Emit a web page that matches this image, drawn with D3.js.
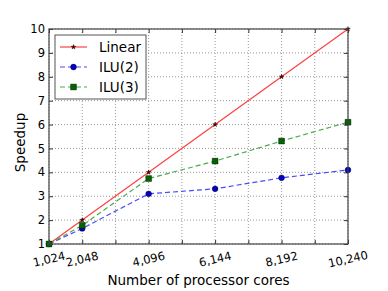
<!DOCTYPE html>
<html>
<head>
<meta charset="utf-8">
<script src="https://cdn.jsdelivr.net/npm/d3@7"></script>
<style>
  body { margin: 0; background: #fff; }
  text { font-family: "DejaVu Sans", sans-serif; fill: #000; }
</style>
</head>
<body>
<div id="chart"></div>
<script>
const cores = [1024, 2048, 4096, 6144, 8192, 10240];
const linear = [1, 2, 4, 6, 8, 10];
const ilu2 = [1, 1.65, 3.1, 3.31, 3.77, 4.1];
const ilu3 = [1, 1.78, 3.74, 4.47, 5.31, 6.1];
const gridCores = [1024, 2048, 3072, 4096, 5120, 6144, 7168, 8192, 9216, 10240];
const yTicks = [1, 2, 3, 4, 5, 6, 7, 8, 9, 10];

const margin = { top: 29, right: 40, bottom: 47, left: 49 };
const width = 388 - margin.left - margin.right;
const height = 291 - margin.top - margin.bottom;

const svg = d3
  .select("#chart")
  .append("svg")
  .attr("width", 388)
  .attr("height", 291);

const g = svg
  .append("g")
  .attr("transform", `translate(${margin.left}, ${margin.top})`);

const x = d3.scaleLinear().domain([1024, 10240]).range([0, width]);
const y = d3.scaleLinear().domain([1, 10]).range([height, 0]);

// grid
g.append("g")
  .selectAll("line")
  .data(gridCores)
  .join("line")
  .attr("x1", (d) => x(d))
  .attr("x2", (d) => x(d))
  .attr("y1", 0)
  .attr("y2", height)
  .attr("stroke", "#999")
  .attr("stroke-dasharray", "1,2");

g.append("g")
  .selectAll("line")
  .data(yTicks)
  .join("line")
  .attr("x1", 0)
  .attr("x2", width)
  .attr("y1", (d) => y(d))
  .attr("y2", (d) => y(d))
  .attr("stroke", "#999")
  .attr("stroke-dasharray", "1,2");

// axes with inward ticks
const xAxis = (sel, axis) =>
  sel.call(axis.tickValues(gridCores).tickSize(-4).tickFormat(""))
    .call((s) => s.select(".domain").remove())
    .call((s) => s.selectAll(".tick line").attr("stroke", "#333"));
g.append("g").attr("transform", `translate(0, ${height})`).call(xAxis, d3.axisBottom(x));
g.append("g").call(xAxis, d3.axisTop(x));

const yAxis = (sel, axis) =>
  sel.call(axis.tickValues(yTicks).tickSize(-4).tickFormat(""))
    .call((s) => s.select(".domain").remove())
    .call((s) => s.selectAll(".tick line").attr("stroke", "#333"));
g.append("g").call(yAxis, d3.axisLeft(y));
g.append("g").attr("transform", `translate(${width}, 0)`).call(yAxis, d3.axisRight(y));

// y tick labels
g.append("g")
  .selectAll("text")
  .data(yTicks)
  .join("text")
  .attr("x", -4)
  .attr("y", (d) => y(d))
  .attr("dy", "0.36em")
  .attr("text-anchor", "end")
  .style("font-size", "11.5px")
  .text((d) => d);

// x tick labels, rotated
const fmt = d3.format(",");
g.append("g")
  .selectAll("text")
  .data(cores)
  .join("text")
  .attr("transform", (d) => `translate(${x(d)}, ${height + 15}) rotate(-13)`)
  .attr("dy", "0.36em")
  .attr("text-anchor", "middle")
  .style("font-size", "11.5px")
  .text((d) => fmt(d));

// series
const series = [
  { name: "Linear", values: linear, line: "#ff4040", dash: null, marker: "star", fill: "#6a0000" },
  { name: "ILU(2)", values: ilu2, line: "#4a4aff", dash: "5,3", marker: "circle", fill: "#0000cc" },
  { name: "ILU(3)", values: ilu3, line: "#4caa4c", dash: "5,3", marker: "square", fill: "#006400" }
];

const line = d3
  .line()
  .x((d) => x(d[0]))
  .y((d) => y(d[1]));

const symbols = {
  star: d3.symbol(d3.symbolStar, 7),
  circle: d3.symbol(d3.symbolCircle, 26),
  square: d3.symbol(d3.symbolSquare, 34)
};

series.forEach((s) => {
  const pts = cores.map((c, i) => [c, s.values[i]]);
  g.append("path")
    .datum(pts)
    .attr("fill", "none")
    .attr("stroke", s.line)
    .attr("stroke-width", 1.2)
    .attr("stroke-dasharray", s.dash)
    .attr("d", line);
  g.append("g")
    .selectAll("path")
    .data(pts)
    .join("path")
    .attr("transform", (d) => `translate(${x(d[0])}, ${y(d[1])})`)
    .attr("d", symbols[s.marker]())
    .attr("fill", s.fill)
    .attr("stroke", "#000")
    .attr("stroke-width", 0.4);
});

// frame
g.append("rect")
  .attr("width", width)
  .attr("height", height)
  .attr("fill", "none")
  .attr("stroke", "#444")
  .attr("stroke-width", 1.2);

// legend
const legend = g.append("g").attr("transform", "translate(6, 6)");
legend
  .append("rect")
  .attr("width", 91)
  .attr("height", 64)
  .attr("fill", "#fff")
  .attr("stroke", "#555")
  .attr("stroke-width", 1);

series.forEach((s, i) => {
  const ly = 12 + i * 20;
  legend
    .append("line")
    .attr("x1", 5)
    .attr("x2", 32)
    .attr("y1", ly)
    .attr("y2", ly)
    .attr("stroke", s.line)
    .attr("stroke-width", 1.2)
    .attr("stroke-dasharray", s.dash);
  legend
    .append("path")
    .attr("transform", `translate(18.5, ${ly})`)
    .attr("d", symbols[s.marker]())
    .attr("fill", s.fill)
    .attr("stroke", "#000")
    .attr("stroke-width", 0.4);
  legend
    .append("text")
    .attr("x", 44)
    .attr("y", ly)
    .attr("dy", "0.36em")
    .style("font-size", "13.5px")
    .text(s.name);
});

// axis titles
svg
  .append("text")
  .attr("x", margin.left + width / 2)
  .attr("y", 285)
  .attr("text-anchor", "middle")
  .style("font-size", "13.5px")
  .text("Number of processor cores");

svg
  .append("text")
  .attr("transform", `translate(25, ${margin.top + height / 2 + 6}) rotate(-90)`)
  .attr("text-anchor", "middle")
  .style("font-size", "13.5px")
  .text("Speedup");
</script>
</body>
</html>
